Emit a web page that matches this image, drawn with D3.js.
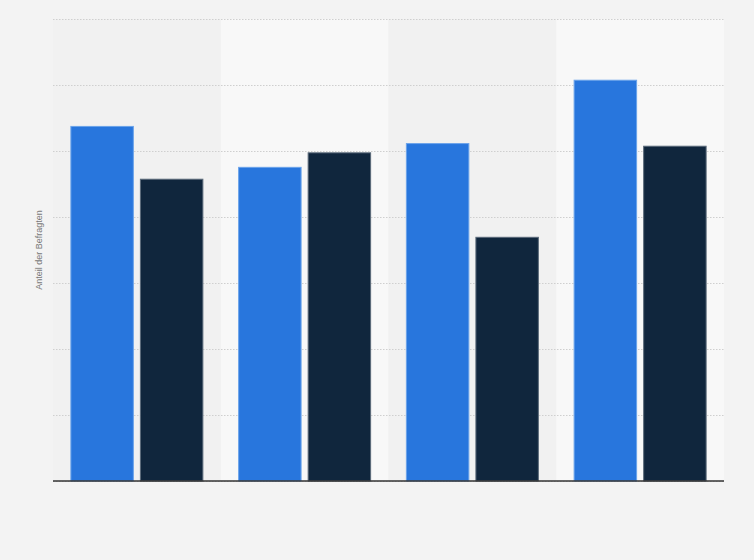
<!DOCTYPE html>
<html>
<head>
<meta charset="utf-8">
<script src="https://cdn.jsdelivr.net/npm/d3@7"></script>
<style>
  html, body { margin: 0; padding: 0; background: #f3f3f3; }
  svg { display: block; font-family: "Liberation Sans", Arial, sans-serif; }
</style>
</head>
<body>
<div id="chart"></div>
<script>
// Data (values in %, axis labels are hidden in the reference).
var groups = ['G1', 'G2', 'G3', 'G4'];
var seriesNames = ['Serie 1', 'Serie 2'];
var series1 = [26.9, 23.8, 25.6, 30.4];
var series2 = [22.9, 24.9, 18.5, 25.4];
var yTicks = [0, 5, 10, 15, 20, 25, 30, 35];
var yLabel = 'Anteil der Befragten';

var fullWidth = 754, fullHeight = 560;
var margin = {top: 19, right: 30, bottom: 79, left: 53};
var width = fullWidth - margin.left - margin.right;
var height = fullHeight - margin.top - margin.bottom;

var colors = ['#2876dd', '#10263d'];
var strokes = ['#6aa3ea', '#5b6a7a'];

var svg = d3.select('#chart').append('svg')
    .attr('width', fullWidth)
    .attr('height', fullHeight);

svg.append('rect')
    .attr('width', fullWidth).attr('height', fullHeight)
    .attr('fill', '#f3f3f3');

var g = svg.append('g')
    .attr('transform', 'translate(' + margin.left + ',' + margin.top + ')');

var x0 = d3.scaleBand().domain(groups).range([0, width]).paddingInner(0).paddingOuter(0);
var x1 = d3.scaleBand().domain(seriesNames).range([0, x0.bandwidth()])
    .paddingInner(0.087).paddingOuter(0.25);
var y = d3.scaleLinear().domain([0, 35]).range([height, 0]);

// Alternating column bands.
g.selectAll('.band')
    .data(groups)
  .enter().append('rect')
    .attr('class', 'band')
    .attr('x', function(d) { return x0(d); })
    .attr('y', 0)
    .attr('width', x0.bandwidth())
    .attr('height', height)
    .attr('fill', function(d, i) { return i % 2 ? '#f8f8f8' : '#f1f1f1'; });

// Grid lines (no tick labels).
var yAxis = d3.axisLeft(y).tickValues(yTicks).tickSize(-width).tickFormat('');
var grid = g.append('g').attr('class', 'grid').call(yAxis);
grid.select('.domain').remove();
grid.selectAll('line')
    .attr('stroke', '#cfcfcf')
    .attr('stroke-width', 1)
    .attr('stroke-dasharray', '1.5,1.5');

// Bars.
var rows = groups.map(function(gr, i) {
    return {group: gr, values: [series1[i], series2[i]]};
});

var grp = g.selectAll('.grp')
    .data(rows)
  .enter().append('g')
    .attr('class', 'grp')
    .attr('transform', function(d) { return 'translate(' + x0(d.group) + ',0)'; });

grp.selectAll('rect')
    .data(function(d) { return d.values.map(function(v, j) { return {name: seriesNames[j], value: v, j: j}; }); })
  .enter().append('rect')
    .attr('x', function(d) { return x1(d.name) + 0.5; })
    .attr('y', function(d) { return y(d.value) + 0.5; })
    .attr('width', x1.bandwidth() - 1)
    .attr('height', function(d) { return height - y(d.value) - 0.5; })
    .attr('fill', function(d) { return colors[d.j]; })
    .attr('stroke', function(d) { return strokes[d.j]; })
    .attr('stroke-width', 1);

// Baseline.
g.append('line')
    .attr('x1', 0).attr('x2', width)
    .attr('y1', height).attr('y2', height)
    .attr('stroke', '#333')
    .attr('stroke-width', 1.5);

// Y axis title.
g.append('text')
    .attr('transform', 'translate(' + (-11) + ',' + (height / 2) + ') rotate(-90)')
    .attr('text-anchor', 'middle')
    .attr('font-size', 9)
    .attr('fill', '#777')
    .text(yLabel);
</script>
</body>
</html>
